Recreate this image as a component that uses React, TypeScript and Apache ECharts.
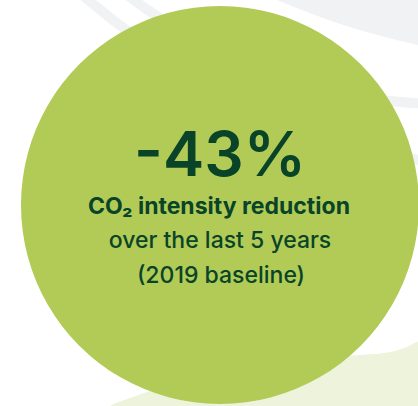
import React, { useEffect, useRef } from "react";
import * as echarts from "echarts";

// ---- data ----
const reductionPct: number[] = [-43];
const circleShare: number[] = [100];
const captionLines: string[] = [
  "CO\u2082 intensity reduction",
  "over the last 5 years",
  "(2019 baseline)",
];

const GREEN = "#b1cb56";
const DARK = "#0a4428";
const GRAY = "#f1f2f4";
const PALE = "#eef3dc";
const FONT = "Inter, 'Noto Sans', sans-serif";

export default function App() {
  const ref = useRef<HTMLDivElement>(null);
  useEffect(() => {
    if (!ref.current) return;
    const chart = echarts.init(ref.current, undefined, { renderer: "svg" });
    const headline = `${reductionPct[0]}%`;
    chart.setOption({
      animation: false,
      backgroundColor: "#ffffff",
      graphic: [
        // decorative background shapes
        { type: "circle", z: 0, silent: true, shape: { cx: 572.5, cy: -682.5, r: 743.7 }, style: { fill: GRAY } },
        { type: "circle", z: 0, silent: true, shape: { cx: 445, cy: -413, r: 517 }, style: { fill: "none", stroke: GRAY, lineWidth: 10 } },
        { type: "circle", z: 0, silent: true, shape: { cx: 567, cy: -568, r: 743 }, style: { fill: "none", stroke: GRAY, lineWidth: 10 } },
        {
          type: "polygon",
          z: 0,
          silent: true,
          shape: {
            points: [
              [100, 420], [110, 406], [130, 398], [160, 387.5], [200, 376], [250, 365],
              [300, 358], [360, 355], [380, 353.5], [395, 351], [408, 346.5], [418, 342],
              [418, 420],
            ],
            smooth: 0.2,
          },
          style: { fill: PALE },
        },
        // texts
        {
          type: "text", z: 100, x: 220, y: 153.5,
          style: { text: headline, font: `600 62px ${FONT}`, lineHeight: 46, fill: DARK, align: "center", verticalAlign: "middle" },
        },
        {
          type: "text", z: 100, x: 219, y: 206.2,
          style: { text: captionLines[0], font: `700 23px ${FONT}`, lineHeight: 22, fill: DARK, align: "center", verticalAlign: "middle" },
        },
        {
          type: "text", z: 100, x: 220, y: 240,
          style: { text: captionLines[1], font: `500 23px ${FONT}`, lineHeight: 22, fill: DARK, align: "center", verticalAlign: "middle" },
        },
        {
          type: "text", z: 100, x: 221, y: 274.8,
          style: { text: captionLines[2], font: `500 23px ${FONT}`, lineHeight: 22, fill: DARK, align: "center", verticalAlign: "middle" },
        },
      ],
      series: [
        {
          type: "pie",
          z: 5,
          silent: true,
          center: [220, 205],
          radius: [0, 199],
          label: { show: false },
          labelLine: { show: false },
          emphasis: { disabled: true },
          itemStyle: { color: GREEN, borderWidth: 0 },
          data: circleShare.map((v) => ({ value: v, name: "share" })),
        },
      ],
    });
    return () => chart.dispose();
  }, []);
  return <div ref={ref} style={{ position: "fixed", left: 0, top: 0, width: 418, height: 406 }} />;
}
